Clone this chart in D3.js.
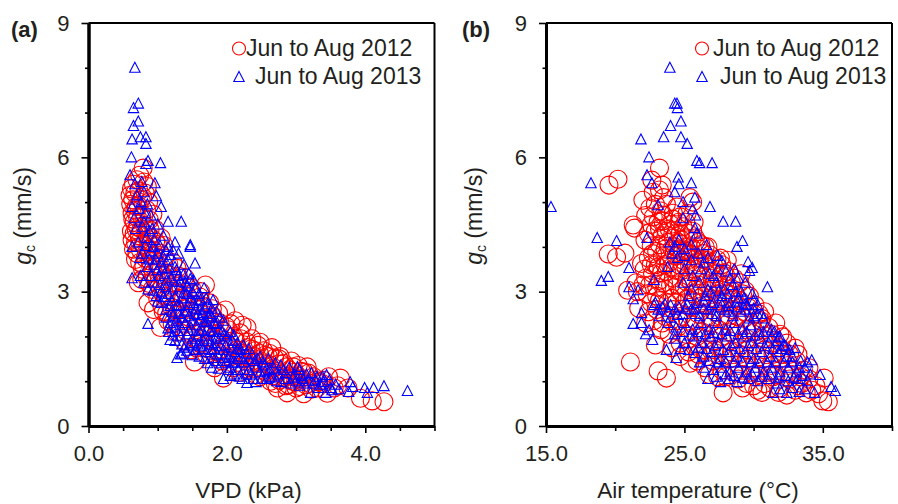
<!DOCTYPE html>
<html>
<head>
<meta charset="utf-8">
<script src="https://cdn.jsdelivr.net/npm/d3@7"></script>
<style>
html, body { margin: 0; padding: 0; background: #fff; }
svg { display: block; font-family: "Liberation Sans", Arial, sans-serif; fill: #231f20; }
</style>
</head>
<body>
<svg></svg>
<script>
// [VPD (kPa), gc (mm/s)]
const vpd2012 = [[.6,5.15],[.61,4.95],[.62,5.3],[.63,4.75],[.64,5.05],[.65,5.4],[.66,4.55],[.67,5.2],[.69,4.9],[.7,5.5],[.71,4.65],[.73,5.25],[.74,5.6],[.76,5.05],[.79,5.76],[.8,5.45],[.82,5.2],[.85,5.35],[.87,5],[.62,4.35],[.63,4.15],[.65,3.95],[.66,4.3],[.68,4.1],[.7,3.85],[.71,4.45],[.73,4.25],[.72,3.2],[.74,3.65],[.76,4.4],[.78,3.5],[.79,4.05],[.8,4.7],[.82,3.75],[.83,4.3],[.85,3.3],[.86,2.75],[.87,3.95],[.88,4.6],[.9,3.55],[.91,4.2],[.92,3.05],[.94,2.6],[.95,3.8],[.96,4.4],[.98,3.3],[1,4.05],[1,2.85],[1.02,3.55],[1.04,2.2],[1.05,4.2],[1.06,3.1],[1.08,2.55],[1.1,3.75],[1.12,2.9],[1.14,3.4],[1.15,2.35],[1.18,3.1],[1.2,2.65],[1.22,3.65],[1.25,2.95],[1.27,2.1],[1.3,3.35],[1.32,2.5],[1.35,2.85],[1.38,1.9],[1.4,3.15],[1.42,2.35],[1.45,2.65],[1.48,1.7],[1.5,2.95],[1.53,1.43],[1.55,2.2],[1.58,2.6],[1.6,1.85],[1.62,3],[1.65,2.4],[1.69,3.15],[1.7,1.6],[1.72,2.15],[1.75,2.75],[1.78,1.9],[1.8,2.45],[1.82,1.3],[1.85,2.05],[1.87,1.65],[1.9,2.3],[1.93,1.45],[1.95,1.07],[1.98,2.59],[2,1.85],[2.02,2.15],[2.05,1.55],[2.08,1.3],[2.1,2],[2.12,2.35],[2.15,1.7],[2.18,1.2],[2.2,1.95],[2.22,2.25],[2.25,1.5],[2.29,2.2],[2.3,1.75],[2.33,1.3],[2.36,1.95],[2.4,1.55],[2.42,1.15],[2.45,1.8],[2.48,1.1],[2.48,1.87],[2.5,1.4],[2.53,1.68],[2.56,1.2],[2.6,1.55],[2.63,1],[2.65,1.75],[2.68,1.3],[2.7,.95],[2.73,.85],[2.75,1.5],[2.77,1.55],[2.8,1.15],[2.82,1.4],[2.85,.9],[2.87,.74],[2.9,1.25],[2.93,1.45],[2.95,1],[2.98,1.2],[3,.85],[3.03,1.35],[3.06,1.05],[3.11,.72],[3.12,1.2],[3.16,1.32],[3.2,.95],[3.25,1.1],[3.3,.85],[3.38,.95],[3.45,.73],[3.47,1.1],[3.55,.85],[3.64,1.07],[3.6,.9],[3.75,.85],[3.93,.62],[4.1,.56],[4.27,.54],
[.64,4.62],[.67,4.82],[.69,4.38],[.72,4.92],[.74,4.12],[.77,4.68],[.78,5.12],[.81,4.48],[.84,4.83],[.86,4.17],[.89,4.38],[.93,4.73],[.68,3.72],[.75,3.93],[.77,3.27],[.8,3.58],[.84,3.88],[.88,3.18],[.89,3.68],[.93,3.93],[.94,3.42],[.97,4.12],[.99,3.62],[1.01,3.17],[1.03,3.86],[1.06,2.68],[1.07,3.38],[1.09,4.03],[1.11,3.22],[1.13,2.52],[1.16,3.62],[1.17,2.82],[1.19,3.36],[1.21,2.28],[1.24,3.18],[1.26,2.62],[1.28,3.52],[1.31,2.86],[1.33,2.22],[1.34,3.08],[1.37,2.62],[1.39,3.32],[1.41,2.12],[1.44,2.88],[1.46,2.42],[1.49,3.08],[1.51,1.98],[1.54,2.72],[1.56,1.75],[1.59,2.32],[1.61,2.88],[1.63,2.08],[1.66,2.68],[1.68,1.82],[1.71,2.48],[1.73,1.72],[1.76,2.22],[1.79,2.62],[1.81,1.62],[1.83,2.32],[1.86,1.88],[1.88,2.52],[1.91,1.72],[1.94,2.12],[1.97,1.52],[1.99,2.22],[2.03,1.78],[2.06,2.28],[2.09,1.62],[2.13,1.88],[2.16,1.42],[2.19,2.08],[2.23,1.62],[2.26,1.28],[2.28,1.88],[2.31,1.52],[2.35,1.72],[2.38,1.28],[2.41,1.68],[2.44,1.42],[2.47,1.62],[2.52,1.25],[2.55,1.58],[2.58,1.38],[2.62,1.62],[2.66,1.12],[2.69,1.52],[2.72,1.22],[2.76,1.02],[2.79,1.38],[2.83,1.08],[2.86,1.32],[2.89,.92],[2.92,1.12],[2.96,1.32],[2.99,.98],[3.02,1.12],[3.05,.88],[3.08,1.22],[3.14,.92],[3.18,1.18],[3.22,.82],[3.28,1.02],[3.33,.98],[3.4,1.02]];
const vpd2013 = [[.67,8],[.72,7.2],[.65,7.1],[.72,6.8],[.65,6.7],[.63,6.4],[.75,6.45],[.83,6.45],[.83,6.3],[.62,6],[.86,5.92],[.83,5.85],[1.04,5.87],[.6,5.6],[.67,5.4],[.77,5.45],[.96,5.42],[.8,5.22],[.98,5.13],[.76,5],[.63,4.89],[1.05,4.89],[.66,4.64],[.82,4.75],[.9,4.7],[1.15,4.56],[1.34,4.56],[.78,4.45],[.92,4.4],[1,4.5],[1.47,4.04],[1.25,4.1],[.63,4],[.72,4.1],[.84,4.2],[.95,4.15],[1.08,4.25],[1.15,4],[.78,3.85],[.9,3.9],[1,3.85],[1.3,3.85],[1.47,4],[1.54,3.63],[.63,3.3],[.75,3.35],[.85,3.55],[.95,3.6],[1.05,3.65],[1.15,3.7],[1.25,3.55],[1.38,3.6],[1.45,3.4],[.86,3.05],[.95,3.2],[1.02,3.35],[1.1,3.4],[1.2,3.3],[1.3,3.35],[1.4,3.2],[1.52,3.25],[1.67,3.08],[1.6,2.95],[.98,2.9],[1.05,3],[1.12,3.1],[1.22,3.05],[1.32,3.1],[1.42,2.95],[1.5,3],[1.58,2.8],[1.7,2.85],[1.8,2.81],[.86,2.28],[1.05,2.75],[1.12,2.6],[1.2,2.8],[1.28,2.7],[1.36,2.85],[1.44,2.7],[1.52,2.75],[1.6,2.6],[1.68,2.65],[1.75,2.5],[1.85,2.55],[1.18,2.3],[1.22,2.45],[1.3,2.5],[1.38,2.55],[1.45,2.45],[1.53,2.5],[1.62,2.4],[1.7,2.35],[1.78,2.45],[1.86,2.3],[1.95,2.35],[1.16,2.1],[1.18,1.92],[1.25,2.2],[1.32,2.25],[1.4,2.3],[1.48,2.2],[1.56,2.25],[1.64,2.15],[1.72,2.2],[1.8,2.1],[1.88,2.15],[1.96,2.05],[2.05,2.1],[1.25,1.9],[1.33,2],[1.42,2.05],[1.5,1.95],[1.58,2],[1.66,1.9],[1.74,1.95],[1.82,1.85],[1.9,1.95],[1.98,1.8],[2.08,1.9],[2.15,1.85],[1.28,1.52],[1.33,1.6],[1.38,1.75],[1.46,1.8],[1.55,1.7],[1.62,1.78],[1.7,1.65],[1.78,1.7],[1.86,1.6],[1.95,1.7],[2.03,1.55],[2.12,1.65],[2.2,1.7],[2.28,1.62],[1.6,1.55],[1.72,1.4],[1.78,1.3],[1.85,1.45],[1.92,1.4],[2,1.45],[2.08,1.4],[2.16,1.5],[2.24,1.42],[2.32,1.5],[2.4,1.45],[2.48,1.55],[1.95,1.05],[2.02,1.25],[2.1,1.15],[2.16,1.25],[2.22,1.05],[2.29,.96],[2.32,1.25],[2.38,1.05],[2.42,.98],[2.48,1.2],[2.55,1.35],[2.62,1.25],[2.7,1.4],[2.58,1.05],[2.65,1.1],[2.75,1.15],[2.82,1.25],[2.9,1.3],[2.98,1.15],[3.05,1.25],[2.85,1.05],[2.92,.95],[3,1],[3.1,1.05],[3.15,1.15],[3.21,.74],[3.25,.95],[3.3,1.1],[3.35,.92],[3.38,1.1],[3.44,1.14],[3.43,.74],[3.5,.85],[3.57,.92],[3.62,.82],[3.76,.76],[3.78,.98],[3.82,.87],[3.99,.85],[4.03,.74],[4.12,.85],[4.27,.89],[4.61,.78],
[.7,5.15],[.73,4.85],[.68,4.4],[.8,4.55],[.85,4.95],[.88,4.35],[.74,3.75],[.82,4.02],[.88,3.72],[.93,4],[.97,3.72],[1.03,4.03],[1.08,3.78],[1.12,3.92],[1.18,3.82],[1.22,3.92],[.8,3.2],[.9,3.35],[.93,3.02],[.99,3.48],[1.03,3.15],[1.07,3.52],[1.13,3.25],[1.17,3.52],[1.23,3.22],[1.27,3.48],[1.33,3.22],[1.37,3.38],[1.43,3.12],[1.47,3.28],[1.55,3.08],[1,2.78],[1.08,2.88],[1.15,2.95],[1.18,2.68],[1.25,2.88],[1.33,2.68],[1.38,2.98],[1.47,2.85],[1.55,2.62],[1.62,2.82],[1.65,2.52],[1.72,2.72],[1.78,2.62],[1.12,2.42],[1.15,2.18],[1.2,2.55],[1.27,2.35],[1.35,2.42],[1.42,2.58],[1.5,2.35],[1.58,2.48],[1.67,2.32],[1.74,2.42],[1.82,2.28],[1.9,2.42],[1.22,2.02],[1.3,2.12],[1.35,1.82],[1.45,2.12],[1.52,1.85],[1.6,2.12],[1.68,2.02],[1.76,2.12],[1.84,2],[1.93,2.1],[2,2],[2.1,2.02],[1.35,1.62],[1.42,1.68],[1.5,1.58],[1.58,1.82],[1.65,1.72],[1.68,1.5],[1.75,1.82],[1.82,1.72],[1.9,1.78],[1.98,1.6],[2.06,1.75],[2.16,1.72],[2.24,1.8],[2.32,1.72],[1.8,1.52],[1.88,1.28],[1.95,1.52],[2.05,1.3],[2.12,1.42],[2.2,1.55],[2.28,1.35],[2.36,1.6],[2.44,1.5],[2.52,1.42],[2.6,1.5],[2.05,1.12],[2.18,1.1],[2.28,1.15],[2.35,1.15],[2.42,1.3],[2.5,1.05],[2.55,1.22],[2.62,1.08],[2.68,1.28],[2.78,1.35],[2.85,1.18],[2.72,1],[2.78,.98],[2.95,1.08],[3.02,1.32],[3.08,1.12],[3.05,.9],[3.12,.95],[3.18,1],[3.22,1.18],[3.28,1.02],[3.32,.85],[3.4,.98],[3.48,1.02],[3.52,.8]];

// [air temperature (deg C), gc (mm/s)]
const temp2012 = [[23.2,5.76],[20.2,5.51],[19.55,5.38],[22.65,5.49],[23.4,5.38],[22.75,5.22],[23.2,5.27],[23.5,5.1],[22,5.04],[25.6,5],[25.4,5.1],[24.45,4.89],[22.5,4.87],[21.3,4.49],[21.4,4.42],[22.75,4.67],[23.1,4.55],[23.5,4.7],[24,4.5],[24.7,4.67],[22.4,4.3],[22.9,4.35],[23.4,4.25],[23.9,4.4],[24.4,4.3],[24.9,4.45],[25.3,4.3],[25.7,4.55],[23.2,4.05],[23.8,4.1],[24.3,4],[24.8,4.15],[25.3,4],[25.8,4.2],[26.2,4.05],[19.5,3.84],[20.1,3.77],[20.7,3.86],[21.9,3.63],[22.4,3.75],[22.9,3.6],[23.4,3.8],[23.9,3.65],[24.4,3.8],[24.9,3.7],[25.4,3.85],[25.9,3.75],[26.4,3.85],[22.2,3.3],[22.7,3.4],[23.2,3.25],[23.7,3.45],[24.2,3.3],[24.7,3.45],[25.2,3.3],[25.7,3.5],[26.2,3.35],[26.7,3.55],[27.2,3.4],[27.7,3.6],[28.2,3.45],[20.9,3.03],[21.6,3],[22.3,2.95],[23,2.9],[23.6,3.05],[24.1,2.85],[24.7,3],[25.2,2.85],[25.8,3.05],[26.3,2.9],[26.9,3.1],[27.4,2.95],[27.9,3.15],[28.5,3],[29,3.2],[21.7,2.63],[22.4,2.55],[23,2.6],[23.6,2.45],[24.2,2.6],[24.8,2.45],[25.4,2.65],[26,2.5],[26.6,2.7],[27.2,2.55],[27.8,2.75],[28.4,2.6],[29,2.8],[29.6,2.65],[30.1,2.7],[30.8,2.55],[22.9,1.81],[23.3,2.15],[23.9,2.05],[24.5,2.2],[25.1,2.05],[25.7,2.25],[26.3,2.1],[26.9,2.3],[27.5,2.15],[28.1,2.35],[28.7,2.2],[29.3,2.4],[29.9,2.25],[30.5,2.35],[31.1,2.2],[31.6,2.3],[32.1,1.99],[24.1,1.75],[24.7,1.85],[25.3,1.65],[25.9,1.8],[26.5,1.7],[27.1,1.9],[27.7,1.75],[28.3,1.9],[28.9,1.75],[29.5,1.95],[30.1,1.8],[30.7,1.95],[31.3,1.8],[31.9,1.75],[33,1.74],[21.1,1.43],[23.1,1.23],[23.7,1.07],[25.9,1.45],[26.5,1.3],[27.1,1.45],[27.7,1.25],[28.3,1.5],[28.9,1.35],[29.5,1.5],[30.1,1.3],[30.7,1.5],[31.3,1.35],[31.9,1.5],[32.5,1.35],[33.1,1.45],[33.6,1.25],[27.8,.74],[28.9,1.05],[29.5,.95],[30.3,.8],[30.1,1.1],[30.8,.95],[31.4,1.1],[31.9,.85],[32.4,.69],[32.6,1.05],[33.2,.9],[33.8,.74],[34,1.05],[34.5,.9],[35.1,1.07],[35,.56],[35.4,.54],
[22.2,4.7],[22.9,4.95],[23.3,4.8],[23.7,4.95],[24.2,4.75],[24.6,4.55],[25.2,4.75],[25.1,4.55],[22.6,4.5],[23.2,4.4],[23.7,4.35],[24.2,4.2],[24.7,4.3],[25.1,4.2],[25.6,4.35],[26,4.1],[26.5,4],[22.6,4.02],[23,3.9],[23.6,3.95],[24.1,3.95],[24.6,3.95],[25.1,3.9],[25.6,3.95],[26.1,3.95],[26.7,4],[22.1,3.5],[22.6,3.6],[23.1,3.55],[23.6,3.6],[24.1,3.55],[24.6,3.6],[25.1,3.55],[25.6,3.6],[26.1,3.65],[26.6,3.7],[27.1,3.6],[27.6,3.75],[28.1,3.7],[21.5,3.2],[22,3.15],[22.5,3.15],[23,3.1],[23.5,3.2],[24,3.15],[24.5,3.15],[25,3.1],[25.5,3.2],[26,3.15],[26.5,3.2],[27,3.3],[27.5,3.2],[28,3.35],[28.6,3.3],[29.1,3.4],[22.6,2.75],[23.2,2.8],[23.8,2.75],[24.4,2.75],[25,2.75],[25.6,2.8],[26.2,2.75],[26.8,2.85],[27.4,2.8],[28,2.85],[28.6,2.85],[29.2,2.95],[29.7,2.9],[22.2,2.3],[22.8,2.35],[23.4,2.3],[24,2.35],[24.6,2.35],[25.2,2.4],[25.8,2.35],[26.4,2.4],[27,2.4],[27.6,2.45],[28.2,2.45],[28.8,2.45],[29.4,2.55],[30,2.5],[30.6,2.4],[24.7,1.55],[25.3,1.95],[25.9,2],[26.5,1.95],[27.1,2.05],[27.7,2],[28.3,2.1],[28.9,2.05],[29.5,2.15],[30.1,2.1],[30.7,2.15],[31.3,2.05],[31.9,2.05],[32.4,1.85],[25.4,1.4],[26,1.6],[26.6,1.55],[27.2,1.7],[27.8,1.55],[28.4,1.65],[29,1.6],[29.6,1.7],[30.2,1.6],[30.8,1.7],[31.4,1.6],[32,1.6],[32.6,1.6],[33.2,1.6],[26.8,1.15],[27.4,1.1],[28,1.1],[28.6,1.2],[29.2,1.15],[29.8,1.2],[30.4,1.15],[31,1.2],[31.6,1.15],[32.2,1.2],[32.8,1.15],[33.4,1.1],[34,1.3],[29.2,.85],[30,.9],[30.6,.75],[31.2,.85],[31.8,.75],[33,.8],[33.5,.95],[34.2,.8],[34.7,.72],
[24.15,4.62],[24.55,4.1],[23.45,4.58],[22.15,4.15],[22.7,3.85],[23.35,3.42],[24.35,3.48],[24.85,3.88],[25.35,3.72],[25.85,3.42],[26.35,3.72],[26.85,3.82],[27.35,3.72],[27.85,3.42],[28.4,3.2],[25.15,3.22],[25.65,2.95],[26.65,3.02],[27.15,3.18],[28.2,2.95],[28.8,2.7],[29.4,3.02],[30.4,2.5]];
const temp2013 = [[15.36,4.89],[18.25,5.42],[23.95,8],[24.3,7.2],[24.46,7.2],[24.5,7.1],[24,6.7],[24.75,6.8],[21.86,6.4],[23.5,6.45],[24.75,6.45],[25.2,6.3],[22.44,6],[25.9,5.92],[26.1,5.87],[27,5.87],[22.3,5.6],[24.55,5.55],[22.65,5.42],[24.6,5.4],[25.5,5.42],[24.3,5.22],[25.76,5.1],[24.9,5],[23.1,4.93],[26.85,4.89],[25.6,4.84],[25.8,4.7],[24.9,4.64],[27.8,4.56],[28.7,4.56],[25.76,4.42],[25.9,4.3],[18.7,4.2],[20.1,4.13],[22.3,4.2],[29.2,4.13],[26.6,4.04],[28.8,4],[23.95,4.1],[24.3,4],[24.6,4.15],[25,3.95],[25.5,4.05],[24.1,3.85],[24.5,3.75],[25,3.8],[25.5,3.7],[26,3.85],[26.7,3.75],[27.4,3.8],[29.6,3.66],[29.9,3.53],[29.7,3.46],[21,3.53],[23.8,3.55],[25,3.5],[25.6,3.35],[26.2,3.5],[26.8,3.4],[27.4,3.5],[28,3.45],[28.6,3.5],[19,3.24],[19.5,3.33],[22.8,3.26],[24.9,3.2],[25.5,3.05],[26.1,3.2],[26.7,3.05],[27.3,3.2],[27.9,3.05],[28.5,3.15],[29.1,3],[31,3.1],[21,3.1],[21.65,3.03],[21.3,2.83],[25.3,2.9],[25.9,2.75],[26.5,2.9],[27.1,2.75],[27.7,2.9],[28.3,2.75],[28.9,2.85],[29.5,2.7],[30,2.8],[22.8,2.7],[23.1,2.6],[23.4,2.65],[23.8,2.55],[24.3,2.6],[24.9,2.5],[25.5,2.6],[26.1,2.45],[26.7,2.6],[27.3,2.45],[27.9,2.6],[28.5,2.45],[29.1,2.55],[29.7,2.4],[30.3,2.5],[21.9,2.52],[21.3,2.28],[21.9,2.3],[22.45,2.14],[22.2,2.05],[23.8,2.3],[24.4,2.2],[25,2.3],[25.6,2.15],[26.2,2.3],[26.8,2.15],[27.4,2.3],[28,2.15],[28.6,2.3],[29.2,2.15],[29.8,2.25],[30.4,2.1],[31,2.2],[31.5,2.1],[22.7,1.92],[24.3,1.95],[25,1.85],[25.7,2],[26.3,1.85],[26.9,2],[27.5,1.85],[28.1,2],[28.7,1.85],[29.3,2],[29.9,1.85],[30.5,1.95],[31.1,1.85],[31.7,1.9],[32.2,1.8],[23.7,1.7],[25.8,1.63],[24.4,1.52],[26.4,1.55],[27,1.65],[27.6,1.5],[28.2,1.65],[28.8,1.55],[29.4,1.65],[30,1.5],[30.6,1.65],[31.2,1.55],[31.8,1.65],[32.4,1.55],[33,1.74],[33.4,1.45],[26.4,1.3],[27.1,1.25],[27.7,1.3],[28.3,1.2],[28.9,1.3],[29.5,1.2],[30.1,1.3],[30.7,1.2],[31.3,1.3],[31.9,1.2],[32.5,1.3],[33.1,1.2],[33.7,1.3],[34.2,1.47],[26.7,1.05],[27.6,.98],[28.2,1.05],[28.8,.98],[29.6,1.05],[30.3,1],[31,1.05],[31.4,.74],[31.7,.95],[32.4,.74],[32.5,1],[33.2,1.05],[33.3,.76],[33.9,1],[34.4,.74],[34.8,1.14],[35.6,.87],[35.9,.78],
[22.9,2.75],[23.2,2.45],[23.6,2.72],[24,2.42],[24.5,2.48],[25.1,2.62],[25.8,2.5],[26.4,2.62],[27,2.5],[27.6,2.65],[28.2,2.55],[28.8,2.65],[29.4,2.6],[30,2.45],[30.6,2.5],[24.3,2.05],[24.9,2.1],[25.4,2.02],[26,2.1],[26.5,2.05],[27.1,2.08],[27.7,2.05],[28.3,2.12],[28.9,2.05],[29.5,2.1],[30.1,2.02],[30.7,2.1],[31.3,2],[31.9,2],[24.7,1.72],[25.3,1.7],[26,1.75],[26.6,1.72],[27.2,1.78],[27.8,1.7],[28.4,1.78],[29,1.72],[29.6,1.78],[30.2,1.72],[30.8,1.78],[31.4,1.72],[32,1.72],[32.6,1.7],[26.1,1.42],[26.8,1.45],[27.4,1.42],[28,1.42],[28.6,1.42],[29.2,1.42],[29.8,1.42],[30.4,1.4],[31,1.42],[31.6,1.42],[32.2,1.42],[32.8,1.42],[33.3,1.3],[33.9,1.42],[27.3,1.1],[28,1.15],[28.6,1.12],[29.2,1.08],[29.9,1.15],[30.6,1.1],[31.2,1.15],[31.8,1.08],[32.3,1.12],[32.9,1.08],[33.5,1.12],[34.1,1.15],[31.9,.82],[32.8,.85],[33.7,.82],[26.4,3.65],[27.7,3.68],[27.1,3.35],[28.3,3.3],[28.9,3.3],[29.4,3.2],[26.9,2.98],[27.5,3.02],[28.1,2.95],[28.7,3],[29.3,2.85],[29.9,2.95],[30.3,2.7],[24,2.7],[24.6,2.65],[25.2,2.72],[25.8,2.62],[26.4,2.78],[27,2.7],[27.6,2.78],[28.2,2.68],[28.8,2.78],[29.4,2.72],[30,2.62],[30.7,2.4],[31.3,2.15],[31.8,1.98],[32.3,1.78],[32.8,1.55]];

const gcTicks = [0, 3, 6, 9];
const gcMinor = [1, 2, 4, 5, 7, 8];
const vpdTicks = [0, 2, 4];
const vpdMinor = [.5, 1, 1.5, 2.5, 3, 3.5, 4.5, 5];
const tempTicks = [15, 25, 35];
const tempMinor = [20, 30, 40];
const series = ['Jun to Aug 2012', 'Jun to Aug 2013'];

const width = 898;
const height = 504;
const plotTop = 23;
const plotBottom = 426;
const svg = d3.select('svg').attr('width', width).attr('height', height);

const triangle = 'M0,-5.5L5.2,4.5L-5.2,4.5Z';

function drawPanel(opt) {
    const xScale = d3.scaleLinear().domain(opt.domain).range(opt.range);
    const yScale = d3.scaleLinear().domain([0, 9]).range([plotBottom, plotTop]);
    const g = svg.append('g');

    // red first, blue sits on top
    g.selectAll('circle.d')
        .data(opt.red)
        .enter()
        .append('circle')
            .attr('class', 'd')
            .attr('cx', d => xScale(d[0]))
            .attr('cy', d => yScale(d[1]))
            .attr('r', 9)
            .attr('fill', 'none')
            .attr('stroke', '#ff0000')
            .attr('stroke-width', 1.1)
    g.selectAll('path.d')
        .data(opt.blue)
        .enter()
        .append('path')
            .attr('class', 'd')
            .attr('d', triangle)
            .attr('transform', d => 'translate(' + xScale(d[0]) + ',' + yScale(d[1]) + ')')
            .attr('fill', 'none')
            .attr('stroke', '#0000ff')
            .attr('stroke-width', 1.1)

    // frame
    g.append('line').attr('x1', opt.range[0]).attr('x2', opt.range[1]).attr('y1', plotTop).attr('y2', plotTop)
        .attr('stroke', '#000').attr('stroke-width', 2)
    g.append('line').attr('x1', opt.range[1]).attr('x2', opt.range[1]).attr('y1', plotTop).attr('y2', plotBottom)
        .attr('stroke', '#000').attr('stroke-width', 2)

    const axes = [
        { axis: d3.axisBottom(xScale).tickValues(opt.minor).tickSize(5).tickFormat(''), y: plotBottom },
        { axis: d3.axisBottom(xScale).tickValues(opt.ticks).tickSize(7).tickPadding(12).tickFormat(d3.format('.1f')), y: plotBottom },
    ];
    axes.forEach(a => {
        const s = g.append('g').attr('transform', 'translate(0,' + a.y + ')').call(a.axis.tickSizeOuter(0));
        s.select('.domain').attr('stroke-width', 3).attr('stroke', '#000');
        s.selectAll('line').attr('stroke-width', 1.6).attr('stroke', '#000');
        s.selectAll('text').attr('font-size', 22).attr('font-family', 'Liberation Sans').attr('fill', '#231f20');
    });
    [
        d3.axisLeft(yScale).tickValues(gcMinor).tickSize(3.5).tickFormat(''),
        d3.axisLeft(yScale).tickValues(gcTicks).tickSize(7).tickPadding(12).tickFormat(d3.format('d')),
    ].forEach(axis => {
        const s = g.append('g').attr('transform', 'translate(' + opt.range[0] + ',0)').call(axis.tickSizeOuter(0));
        s.select('.domain').attr('stroke-width', 3).attr('stroke', '#000');
        s.selectAll('line').attr('stroke-width', 1.6).attr('stroke', '#000');
        s.selectAll('text').attr('font-size', 22).attr('font-family', 'Liberation Sans').attr('fill', '#231f20');
    });

    g.append('text')
        .attr('x', opt.labelX)
        .attr('y', 37)
        .attr('font-size', 22)
        .attr('font-weight', 'bold')
        .attr('fill', '#231f20')
        .text(opt.panel)

    g.append('text')
        .attr('x', opt.xTitleX)
        .attr('y', 498)
        .attr('font-size', 22.5)
        .attr('fill', '#231f20')
        .style('text-anchor', 'middle')
        .text(opt.xTitle)

    const yTitle = g.append('text')
        .attr('transform', 'translate(' + opt.yTitleX + ',216) rotate(-90)')
        .attr('font-size', 23)
        .attr('fill', '#231f20')
        .style('text-anchor', 'middle')
    yTitle.append('tspan').attr('font-style', 'italic').text('g')
    yTitle.append('tspan').attr('font-size', 14).attr('dy', 4).text('c')
    yTitle.append('tspan').attr('dy', -4).text(' (mm/s)')

    // legend
    g.append('circle').attr('cx', opt.legendX).attr('cy', 48.5).attr('r', 6.5)
        .attr('fill', 'none').attr('stroke', '#ff0000').attr('stroke-width', 1.1)
    g.append('path').attr('d', triangle).attr('transform', 'translate(' + opt.legendX + ',77)')
        .attr('fill', 'none').attr('stroke', '#0000ff').attr('stroke-width', 1.1)
    g.append('text').attr('x', opt.legendText[0]).attr('y', 56).attr('font-size', 23)
        .attr('fill', '#231f20').text(series[0])
    g.append('text').attr('x', opt.legendText[1]).attr('y', 84).attr('font-size', 23)
        .attr('fill', '#231f20').text(series[1])
}

drawPanel({
    panel: '(a)', labelX: 11, red: vpd2012, blue: vpd2013,
    domain: [0, 5], range: [88.5, 434.5], ticks: vpdTicks, minor: vpdMinor,
    xTitle: 'VPD (kPa)', xTitleX: 248.5, yTitleX: 31, legendX: 239, legendText: [246, 255]
})
drawPanel({
    panel: '(b)', labelX: 462, red: temp2012, blue: temp2013,
    domain: [15, 40], range: [546, 892], ticks: tempTicks, minor: tempMinor,
    xTitle: 'Air temperature (°C)', xTitleX: 698, yTitleX: 482, legendX: 702, legendText: [713, 720]
})
</script>
</body>
</html>
